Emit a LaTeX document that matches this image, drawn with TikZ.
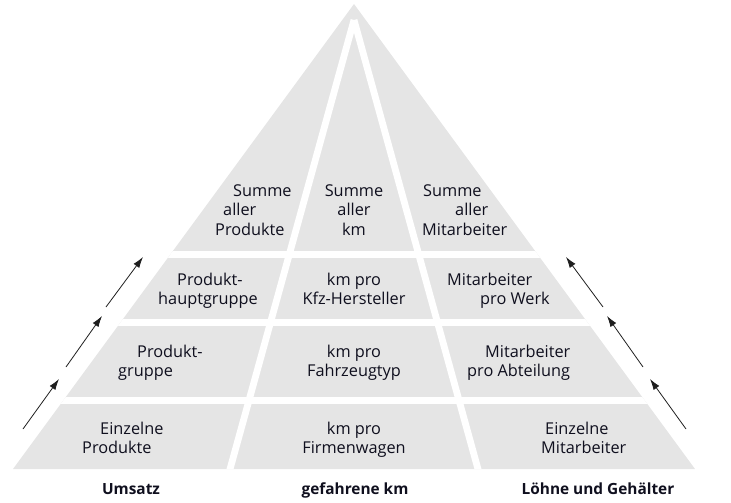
\documentclass[tikz,border=0pt]{standalone}
\usepackage{fontspec}
\setmainfont{Open Sans}
\usepackage{xcolor}
\usepackage{tikz}
\definecolor{pyrgray}{RGB}{229, 229, 229}
\definecolor{pyrtext}{RGB}{15, 15, 30}
\definecolor{pyrarrow}{RGB}{30, 30, 30}
\usetikzlibrary{arrows.meta}

\begin{document}
\begin{tikzpicture}[x=1pt, y=-1pt,
    cell/.style={font=\fontsize{16.3}{19.5}\selectfont, text=pyrtext, inner sep=0pt, align=center, anchor=north},
    lcell/.style={cell, align=left, anchor=north west},
    foot/.style={font=\fontsize{15.4}{19.5}\selectfont\bfseries, text=pyrtext, inner sep=0pt, anchor=base},
    gap/.style={white, line width=6.8pt},
    climb/.style={-{Latex[length=11pt, width=7pt]}, line width=0.8pt, pyrarrow}]
    \useasboundingbox (0,0) rectangle (731,503);

    % pyramid body
    \coordinate (apex) at (354,4);
    \coordinate (bl) at (13,469);
    \coordinate (br) at (695,469);
    \fill[pyrgray] (apex) -- (bl) -- (br) -- cycle;

    % white gaps between levels and columns
    \begin{scope}
        \clip (apex) -- (bl) -- (br) -- cycle;
        \draw[gap] (0,254.5) -- (731,254.5);
        \draw[gap] (0,322.5) -- (731,322.5);
        \draw[gap] (0,400.5) -- (731,400.5);
        \draw[gap] (354,20) -- (227,480);
        \draw[gap] (354,20) -- (481,480);
    \end{scope}

    % top level
    \node[lcell] (sumprod) at (215,184.1) {\hspace*{18pt}Summe\\\hspace*{8pt}aller\\Produkte};
    \node[cell] (sumkm) at (354,184.1) {Summe\\aller\\km};
    \node[lcell] (summit) at (422,184.1) {\hspace*{1pt}Summe\\\hspace*{33pt}aller\\Mitarbeiter};

    % second level
    \node[lcell] (hauptgr) at (158,272.6) {\hspace*{19pt}Produkt-\\hauptgruppe};
    \node[cell] (kmkfz) at (354,272.6) {km pro\\Kfz-Hersteller};
    \node[lcell] (mitwerk) at (447,272.6) {Mitarbeiter\\\hspace*{33pt}pro Werk};

    % third level
    \node[lcell] (gruppe) at (118,344.6) {\hspace*{19pt}Produkt-\\gruppe};
    \node[cell] (kmtyp) at (354,344.6) {km pro\\Fahrzeugtyp};
    \node[lcell] (mitabt) at (467,344.6) {\hspace*{18pt}Mitarbeiter\\pro Abteilung};

    % bottom level
    \node[lcell] (einzprod) at (82,421.6) {\hspace*{18pt}Einzelne\\Produkte};
    \node[cell] (kmwagen) at (354,421.6) {km pro\\Firmenwagen};
    \node[lcell] (einzmit) at (541,421.6) {\hspace*{4pt}Einzelne\\Mitarbeiter};

    % measures
    \node[foot] (umsatz) at (131,494) {Umsatz};
    \node[foot] (gefkm) at (355,494) {gefahrene km};
    \node[foot] (loehne) at (598,494) {Löhne und Gehälter};

    % aggregation arrows
    \draw[climb] (23,429) -- (59,379);
    \draw[climb] (66,367) -- (102,316);
    \draw[climb] (106,307) -- (143,257);
    \draw[climb] (686,429) -- (650,379);
    \draw[climb] (643,367) -- (607,316);
    \draw[climb] (603,307) -- (566,257);
\end{tikzpicture}
\end{document}
